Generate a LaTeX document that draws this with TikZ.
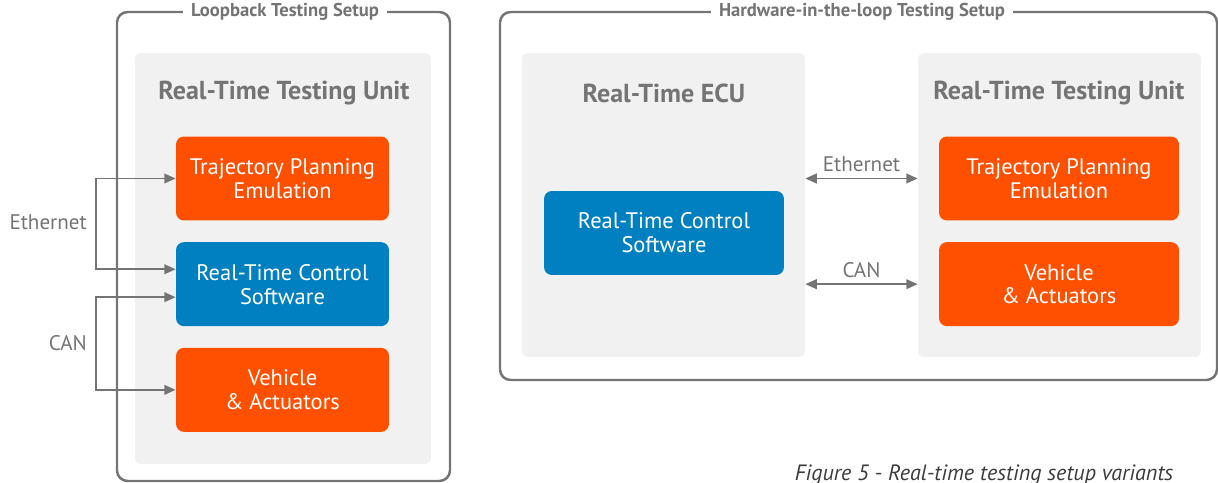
\documentclass[tikz,border=0pt]{standalone}
\usepackage{fontspec}
\setmainfont{PT Sans}
\usetikzlibrary{positioning,arrows.meta}
\definecolor{hwOrange}{HTML}{FF5000}
\definecolor{hwBlue}{HTML}{0080C0}
\definecolor{hwGrey}{HTML}{747474}
\definecolor{hwPanel}{HTML}{F1F1F1}
\definecolor{hwCaption}{HTML}{3C3C3C}

\begin{document}
\begin{tikzpicture}[x=0.02cm, y=-0.02cm, >={Triangle[length=6.5pt,width=5.5pt]}, node distance=0.42cm,
  frame/.style={draw=hwGrey, line width=1.4pt, rounded corners=6pt},
  frametitle/.style={fill=white, text=hwGrey, font=\bfseries\fontsize{10.6}{12}\selectfont, inner xsep=4.5pt, inner ysep=1pt},
  panel/.style={fill=hwPanel, rounded corners=3pt, inner sep=0pt},
  paneltitle/.style={text=hwGrey, font=\bfseries\fontsize{14.8}{17}\selectfont},
  unit/.style={rounded corners=4.5pt, text=white, align=center, minimum height=1.68cm, inner sep=0pt, font=\fontsize{12.8}{13.6}\selectfont},
  orangebox/.style={unit, fill=hwOrange},
  bluebox/.style={unit, fill=hwBlue},
  link/.style={draw=hwGrey, line width=1.1pt, <->},
  linklabel/.style={text=hwGrey, font=\fontsize{12}{14}\selectfont}]
  \useasboundingbox (0,0) rectangle (1218,483);

  % loopback setup
  \draw[frame] (117,12) rectangle (450,481);
  \node[frametitle] (lbtitle) at (285,12) {Loopback Testing Setup};
  \node[panel, minimum width=5.92cm, minimum height=8.22cm] (lbunit) at (283,258.5) {};
  \node[paneltitle] (lbunittitle) at (284,93) {Real-Time Testing Unit};
  \node[orangebox, minimum width=4.26cm] (lbtraj) at (282.5,178.5) {Trajectory Planning\\Emulation};
  \node[bluebox, minimum width=4.26cm, below=of lbtraj] (lbctrl) {Real-Time Control\\Software};
  \node[orangebox, minimum width=4.26cm, below=of lbctrl] (lbveh) {Vehicle\\\& Actuators};
  \draw[link] (lbtraj.west) -- ++(-80,0) |- ([yshift=8.5pt]lbctrl.west);
  \draw[link] ([yshift=-7.4pt]lbctrl.west) -- ++(-80,0) |- (lbveh.west);
  \node[linklabel, anchor=east] (lbeth) at (93,222) {Ethernet};
  \node[linklabel, anchor=east] (lbcan) at (93,343) {CAN};

  % hardware-in-the-loop setup
  \draw[frame] (500,12) rectangle (1217,380);
  \node[frametitle] (hiltitle) at (862,12) {Hardware-in-the-loop Testing Setup};
  \node[panel, minimum width=5.66cm, minimum height=6.08cm] (ecu) at (663.5,205) {};
  \node[paneltitle] (ecutitle) at (664,93) {Real-Time ECU};
  \node[bluebox, minimum width=4.8cm] (ecuctrl) at (664,233) {Real-Time Control\\Software};
  \node[panel, minimum width=5.66cm, minimum height=6.08cm] (hilunit) at (1059.5,205) {};
  \node[paneltitle] (hilunittitle) at (1059,93) {Real-Time Testing Unit};
  \node[orangebox, minimum width=4.8cm] (hiltraj) at (1059,178.5) {Trajectory Planning\\Emulation};
  \node[orangebox, minimum width=4.8cm, below=of hiltraj] (hilveh) {Vehicle\\\& Actuators};
  \draw[link] (ecu.east |- hiltraj) -- (hilunit.west |- hiltraj)
    node[linklabel, midway, above] (hileth) {Ethernet};
  \draw[link] (ecu.east |- hilveh) -- (hilunit.west |- hilveh)
    node[linklabel, midway, above] (hilcan) {CAN};

  \node[text=hwCaption, font=\itshape\fontsize{12.6}{14}\selectfont, anchor=base] (caption) at (984,480) {Figure 5 - Real-time testing setup variants};
\end{tikzpicture}
\end{document}
